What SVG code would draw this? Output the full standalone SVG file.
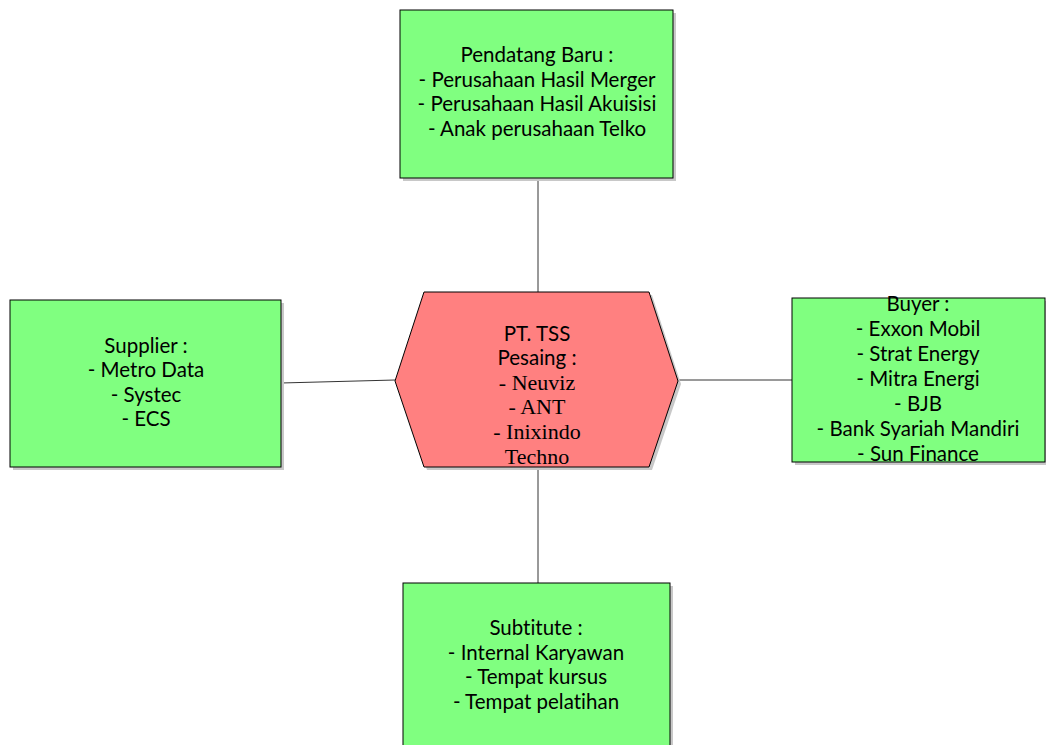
<svg xmlns="http://www.w3.org/2000/svg" width="1046" height="745" viewBox="0 0 1046 745">
<style>
.box{fill:#80ff80;stroke:#000;stroke-width:1}
.hex{fill:#ff8080;stroke:#000;stroke-width:1}
.sh{fill:#c8c8c8}
.t{font-family:Lato,"Open Sans",sans-serif;font-size:20.5px;fill:#000;text-anchor:middle;font-variant-ligatures:none}
.s{font-family:"Liberation Serif",serif;font-size:22px;fill:#000;text-anchor:middle}
.c{stroke:#000;stroke-width:0.8;fill:none}
</style>
<rect width="1046" height="745" fill="#fff"/>
<g id="connectors">
<line class="c" x1="538" y1="178" x2="538" y2="292"/>
<line class="c" x1="281" y1="383" x2="395" y2="380"/>
<line class="c" x1="679" y1="380" x2="792" y2="380"/>
<line class="c" x1="538" y1="467" x2="538" y2="583"/>
</g>
<g id="pendatang">
<rect class="sh" x="403" y="13" width="273" height="168"/>
<rect class="box" x="400" y="10" width="273" height="168"/>
<text class="t" x="537" y="62">Pendatang Baru :</text>
<text class="t" x="537" y="87">- Perusahaan Hasil Merger</text>
<text class="t" x="537" y="111">- Perusahaan Hasil Akuisisi</text>
<text class="t" x="537" y="136">- Anak perusahaan Telko</text>
</g>
<g id="supplier">
<rect class="sh" x="13" y="303" width="271" height="167"/>
<rect class="box" x="10" y="300" width="271" height="167"/>
<text class="t" x="146" y="353">Supplier :</text>
<text class="t" x="146" y="377">- Metro Data</text>
<text class="t" x="146" y="402">- Systec</text>
<text class="t" x="146" y="426">- ECS</text>
</g>
<g id="buyer">
<rect class="sh" x="795" y="301" width="253" height="164"/>
<rect class="box" x="792" y="298" width="253" height="164"/>
<text class="t" x="918" y="311">Buyer :</text>
<text class="t" x="918" y="336">- Exxon Mobil</text>
<text class="t" x="918" y="361">- Strat Energy</text>
<text class="t" x="918" y="386">- Mitra Energi</text>
<text class="t" x="918" y="411">- BJB</text>
<text class="t" x="918" y="436">- Bank Syariah Mandiri</text>
<text class="t" x="918" y="461">- Sun Finance</text>
</g>
<g id="subtitute">
<rect class="sh" x="406" y="586" width="267" height="170"/>
<rect class="box" x="403" y="583" width="267" height="170"/>
<text class="t" x="536" y="635">Subtitute :</text>
<text class="t" x="536" y="660">- Internal Karyawan</text>
<text class="t" x="536" y="684">- Tempat kursus</text>
<text class="t" x="536" y="709">- Tempat pelatihan</text>
</g>
<g id="pttss">
<polygon class="sh" points="427,295 652,295 681,384 652,470 427,470 398,384"/>
<polygon class="hex" points="424,292 649,292 678,381 649,467 424,467 395,381"/>
<text class="t" x="537" y="341">PT. TSS</text>
<text class="t" x="537" y="365">Pesaing :</text>
<text class="s" x="537" y="390">- Neuviz</text>
<text class="s" x="537" y="414">- ANT</text>
<text class="s" x="537" y="439">- Inixindo</text>
<text class="s" x="537" y="464">Techno</text>
</g>
</svg>
